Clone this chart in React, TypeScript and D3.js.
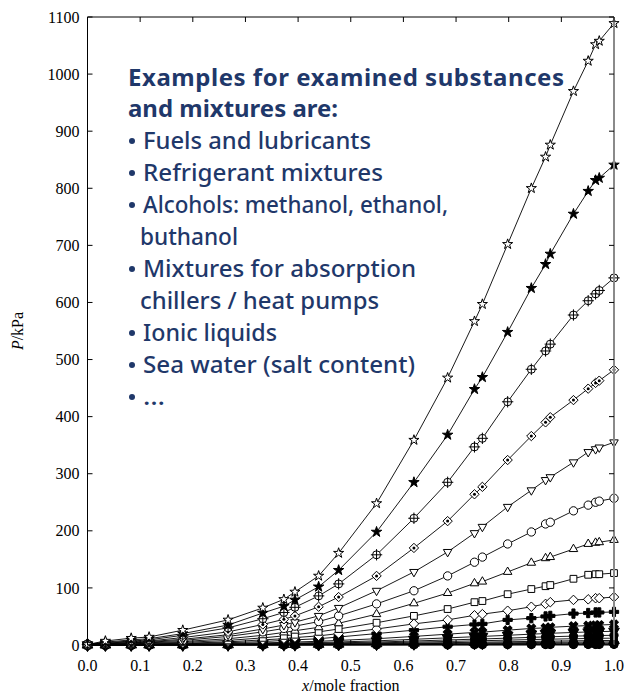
import { useEffect, useRef } from 'react';
import * as d3 from 'd3';

// mole fractions where all isotherms were measured
const xValues = [0, 0.034, 0.083, 0.117, 0.181, 0.267, 0.333, 0.373, 0.394, 0.439, 0.477, 0.549, 0.62, 0.684, 0.735, 0.75, 0.798, 0.843, 0.87, 0.879, 0.923, 0.951, 0.965, 0.972, 1.0];

// pressures in kPa, top curve first
const openStar = [1, 7, 12, 14, 26, 44, 65, 80, 93, 121, 161, 248, 359, 468, 567, 597, 702, 800, 855, 876, 970, 1023, 1052, 1058, 1089];
const filledStar = [1, 5, 9, 11, 20, 35, 56, 68, 79, 102, 131, 198, 285, 368, 448, 469, 548, 625, 667, 685, 755, 795, 814, 818, 841];
const circlePlus = [1, 4, 7, 9, 17, 30, 46, 57, 66, 86, 107, 158, 222, 285, 347, 362, 426, 483, 515, 527, 578, 603, 615, 621, 643];
const diamondDot = [1, 3, 6, 7, 13, 23, 36, 45, 51, 67, 84, 121, 170, 217, 264, 277, 324, 366, 390, 399, 429, 449, 459, 463, 482];
const triDown = [1, 2.5, 4.5, 6, 10, 18, 28, 35, 40, 51, 65, 95, 128, 163, 196, 207, 242, 271, 289, 294, 320, 338, 343, 346, 355];
const circleOpen = [1, 2, 4, 5, 8, 15, 23, 29, 33, 41, 51, 72, 95, 121, 145, 154, 177, 198, 212, 215, 235, 245, 250, 252, 257];
const triUp = [1, 1.5, 3, 4, 6, 11, 17, 22, 25, 31, 38, 54, 73, 91, 108, 111, 128, 144, 152, 154, 168, 177, 179, 180, 184];
const squareOpen = [0.5, 1, 2, 3, 4.5, 8, 12.5, 16, 18, 23, 28, 39, 51, 63, 75, 77, 89, 98, 103, 105, 116, 123, 124, 124, 126];
const diamondOpen = [0.4, 0.8, 1.5, 2, 3, 5.5, 9, 11, 13, 16, 20, 28, 37, 44, 52, 54, 60, 67, 72, 75, 79, 80, 82, 82, 84];
const plusFilled = [0.3, 0.6, 1, 1.4, 2, 4, 6, 8, 9, 11, 14, 20, 26, 32, 36, 37, 44, 47, 50, 51, 55, 56, 57, 57, 58];
const timesFilled = [0.2, 0.4, 0.7, 1, 1.5, 2.5, 3.8, 4.6, 5.2, 6.5, 8, 11, 15, 19, 22, 22.5, 26, 29, 30, 31, 33, 34, 34.5, 35, 36];
const low1 = [0.1, 0.3, 0.5, 0.7, 1, 1.7, 2.5, 3, 3.4, 4.3, 5.3, 7.3, 10, 12.5, 14.5, 15, 17, 19, 20, 20.5, 22, 22.8, 23.3, 23.5, 24];
const low2 = [0.1, 0.2, 0.35, 0.5, 0.7, 1.2, 1.8, 2.1, 2.4, 3, 3.7, 5.2, 7, 8.8, 10.2, 10.6, 12, 13.4, 14.2, 14.5, 15.5, 16.1, 16.4, 16.6, 17];
const low3 = [0.05, 0.15, 0.25, 0.35, 0.5, 0.85, 1.3, 1.5, 1.7, 2.1, 2.6, 3.7, 5, 6.2, 7.2, 7.5, 8.5, 9.5, 10, 10.2, 11, 11.4, 11.6, 11.7, 12];
const low4 = [0.05, 0.1, 0.17, 0.23, 0.33, 0.55, 0.85, 1, 1.1, 1.4, 1.7, 2.4, 3.3, 4.1, 4.8, 5, 5.7, 6.3, 6.7, 6.8, 7.3, 7.6, 7.7, 7.8, 8];
const low5 = [0.03, 0.07, 0.12, 0.16, 0.23, 0.38, 0.58, 0.7, 0.76, 0.95, 1.2, 1.65, 2.3, 2.8, 3.3, 3.4, 3.9, 4.3, 4.6, 4.7, 5, 5.2, 5.3, 5.35, 5.5];
const low6 = [0.02, 0.04, 0.08, 0.1, 0.15, 0.24, 0.37, 0.44, 0.48, 0.6, 0.75, 1.05, 1.45, 1.8, 2.1, 2.2, 2.5, 2.75, 2.9, 3, 3.2, 3.3, 3.4, 3.4, 3.5];
const low7 = [0.01, 0.02, 0.05, 0.06, 0.09, 0.14, 0.21, 0.25, 0.28, 0.35, 0.43, 0.6, 0.82, 1, 1.2, 1.25, 1.4, 1.6, 1.65, 1.7, 1.8, 1.9, 1.95, 1.95, 2];
const low8 = [0.01, 0.01, 0.02, 0.03, 0.04, 0.07, 0.1, 0.12, 0.14, 0.17, 0.21, 0.3, 0.41, 0.5, 0.6, 0.62, 0.7, 0.8, 0.82, 0.85, 0.9, 0.95, 0.97, 0.98, 1];

const xTicks = [0, 0.1, 0.2, 0.3, 0.4, 0.5, 0.6, 0.7, 0.8, 0.9, 1.0];
const yTicks = [0, 100, 200, 300, 400, 500, 600, 700, 800, 900, 1000, 1100];

const headingLines = ['Examples for examined substances', 'and mixtures are:'];
const bulletLines = [
  { text: 'Fuels and lubricants', bullet: true },
  { text: 'Refrigerant mixtures', bullet: true },
  { text: 'Alcohols: methanol, ethanol,', bullet: true },
  { text: 'buthanol', bullet: false },
  { text: 'Mixtures for absorption', bullet: true },
  { text: 'chillers / heat pumps', bullet: false },
  { text: 'Ionic liquids', bullet: true },
  { text: 'Sea water (salt content)', bullet: true },
  { text: '…', bullet: true },
];
// widths measured on the slide
const bulletWidths = [228, 240, 305, 98, 273, 239, 134, 272, 22];

export default function App() {
  const svgRef = useRef<HTMLDivElement>(null);

  useEffect(() => {
    const width = 629;
    const height = 698;
    const left = 87.5;
    const right = 614;
    const top = 17;
    const bottom = 645;
    const navy = '#1f386a';

    const x = d3.scaleLinear().domain([0, 1]).range([left, right]);
    const y = d3.scaleLinear().domain([0, 1100]).range([bottom, top]);

    const svg = d3
      .create('svg')
      .attr('width', width)
      .attr('height', height)
      .style('position', 'absolute')
      .style('left', '0px')
      .style('top', '0px')
      .style('background', '#fff');

    // marker table: symbol, size, fill, rotation, extra decoration
    const series = [
      { v: openStar, type: d3.symbolStar, size: 32, fill: '#fff', rot: 0 },
      { v: filledStar, type: d3.symbolStar, size: 34, fill: '#000', rot: 0 },
      { v: circlePlus, type: d3.symbolCircle, size: 50, fill: '#fff', rot: 0, extra: 'plus' },
      { v: diamondDot, type: d3.symbolDiamond2, size: 56, fill: '#fff', rot: 0, extra: 'dot' },
      { v: triDown, type: d3.symbolTriangle2, size: 52, fill: '#fff', rot: 180 },
      { v: circleOpen, type: d3.symbolCircle, size: 54, fill: '#fff', rot: 0 },
      { v: triUp, type: d3.symbolTriangle2, size: 52, fill: '#fff', rot: 0 },
      { v: squareOpen, type: d3.symbolSquare, size: 46, fill: '#fff', rot: 0 },
      { v: diamondOpen, type: d3.symbolDiamond2, size: 58, fill: '#fff', rot: 0 },
      { v: plusFilled, type: d3.symbolCross, size: 48, fill: '#000', rot: 0 },
      { v: timesFilled, type: d3.symbolCross, size: 48, fill: '#000', rot: 45 },
      { v: low1, type: d3.symbolTriangle, size: 50, fill: '#000', rot: 180 },
      { v: low2, type: d3.symbolCircle, size: 54, fill: '#000', rot: 0 },
      { v: low3, type: d3.symbolSquare, size: 46, fill: '#000', rot: 0 },
      { v: low4, type: d3.symbolTriangle, size: 50, fill: '#000', rot: 0 },
      { v: low5, type: d3.symbolDiamond, size: 50, fill: '#000', rot: 0 },
      { v: low6, type: d3.symbolCircle, size: 54, fill: '#000', rot: 0 },
      { v: low7, type: d3.symbolSquare, size: 46, fill: '#000', rot: 0 },
      { v: low8, type: d3.symbolCircle, size: 54, fill: '#000', rot: 0 },
    ];

    const line = d3
      .line<number>()
      .x((_, i) => x(xValues[i]))
      .y((d) => y(d));

    // Lines first, markers on top.
    const plot = svg.append('g');
    plot
      .selectAll('path.curve')
      .data(series.slice().reverse())
      .join('path')
      .attr('class', 'curve')
      .attr('d', (s) => line(s.v))
      .attr('fill', 'none')
      .attr('stroke', '#000')
      .attr('stroke-width', 0.9);

    series
      .slice()
      .reverse()
      .forEach((s) => {
        const g = plot.append('g');
        const pts = g
          .selectAll('g')
          .data(s.v)
          .join('g')
          .attr('transform', (d, i) => `translate(${x(xValues[i])},${y(d)}) rotate(${s.rot})`);
        pts
          .append('path')
          .attr('d', d3.symbol(s.type, s.size)())
          .attr('fill', s.fill)
          .attr('stroke', '#000')
          .attr('stroke-width', 1);
        if (s.extra === 'plus') {
          pts
            .append('path')
            .attr('d', d3.symbol(d3.symbolPlus, 44)())
            .attr('fill', 'none')
            .attr('stroke', '#000')
            .attr('stroke-width', 1);
        }
        if (s.extra === 'dot') {
          pts.append('circle').attr('r', 1.5).attr('fill', '#000');
        }
      });

    // Frame
    const frame = svg.append('g').attr('fill', 'none');
    frame
      .append('path')
      .attr('d', `M${right},${top}H${left}V${bottom}H${right}`)
      .attr('stroke', '#000')
      .attr('stroke-width', 1);
    frame
      .append('line')
      .attr('x1', right)
      .attr('x2', right)
      .attr('y1', top)
      .attr('y2', bottom)
      .attr('stroke', '#8a8a8a')
      .attr('stroke-width', 2);

    // Ticks inside on all four sides
    const tickLen = 5;
    const ticks = svg.append('g').attr('stroke', '#000').attr('stroke-width', 1);
    xTicks.forEach((t) => {
      ticks.append('line').attr('x1', x(t)).attr('x2', x(t)).attr('y1', bottom).attr('y2', bottom - tickLen);
      ticks.append('line').attr('x1', x(t)).attr('x2', x(t)).attr('y1', top).attr('y2', top + tickLen);
    });
    yTicks.forEach((t) => {
      ticks.append('line').attr('x1', left).attr('x2', left + tickLen).attr('y1', y(t)).attr('y2', y(t));
      ticks.append('line').attr('x1', right).attr('x2', right - tickLen).attr('y1', y(t)).attr('y2', y(t));
    });

    const serif = '"Liberation Serif", "DejaVu Serif", serif';
    const labels = svg.append('g').attr('font-family', serif).attr('font-size', 16).attr('fill', '#000');
    labels
      .selectAll('text.xt')
      .data(xTicks)
      .join('text')
      .attr('class', 'xt')
      .attr('x', (d) => x(d))
      .attr('y', bottom + 26)
      .attr('text-anchor', 'middle')
      .text((d) => d3.format('.1f')(d));
    labels
      .selectAll('text.yt')
      .data(yTicks)
      .join('text')
      .attr('class', 'yt')
      .attr('x', left - 8)
      .attr('y', (d) => y(d))
      .attr('dy', '0.35em')
      .attr('text-anchor', 'end')
      .text((d) => d);

    // Axis titles
    const xt = labels
      .append('text')
      .attr('x', (left + right) / 2)
      .attr('y', 691)
      .attr('text-anchor', 'middle');
    xt.append('tspan').attr('font-style', 'italic').text('x');
    xt.append('tspan').text('/mole fraction');

    const yt = labels
      .append('text')
      .attr('transform', `translate(23,${(top + bottom) / 2}) rotate(-90)`)
      .attr('text-anchor', 'middle');
    yt.append('tspan').attr('font-style', 'italic').text('P');
    yt.append('tspan').text('/kPa');

    // Overlay text block
    const sans = '"Noto Sans", "Open Sans", sans-serif';
    const note = svg.append('g').attr('font-family', sans).attr('fill', navy);
    note
      .selectAll('text.head')
      .data(headingLines)
      .join('text')
      .attr('class', 'head')
      .attr('x', 128)
      .attr('y', (_, i) => 86 + i * 31)
      .attr('font-size', 24)
      .attr('font-weight', 'bold')
      .attr('textLength', (_, i) => (i === 0 ? 436 : 210))
      .attr('lengthAdjust', (_, i) => (i === 0 ? 'spacing' : 'spacingAndGlyphs'))
      .text((d) => d);

    bulletLines.forEach((b, i) => {
      const by = 149 + i * 32;
      if (b.bullet) {
        note.append('circle').attr('cx', 132).attr('cy', by - 8).attr('r', 3);
      }
      note
        .append('text')
        .attr('x', b.bullet ? 143 : 140)
        .attr('y', by)
        .attr('font-size', 23)
        .attr('font-weight', 500)
        .attr('textLength', bulletWidths[i])
        .attr('lengthAdjust', 'spacingAndGlyphs')
        .text(b.text);
    });

    svgRef.current?.appendChild(svg.node() as SVGSVGElement);
    return () => {
      svgRef.current?.replaceChildren();
    };
  }, []);

  return <div ref={svgRef}></div>;
}
